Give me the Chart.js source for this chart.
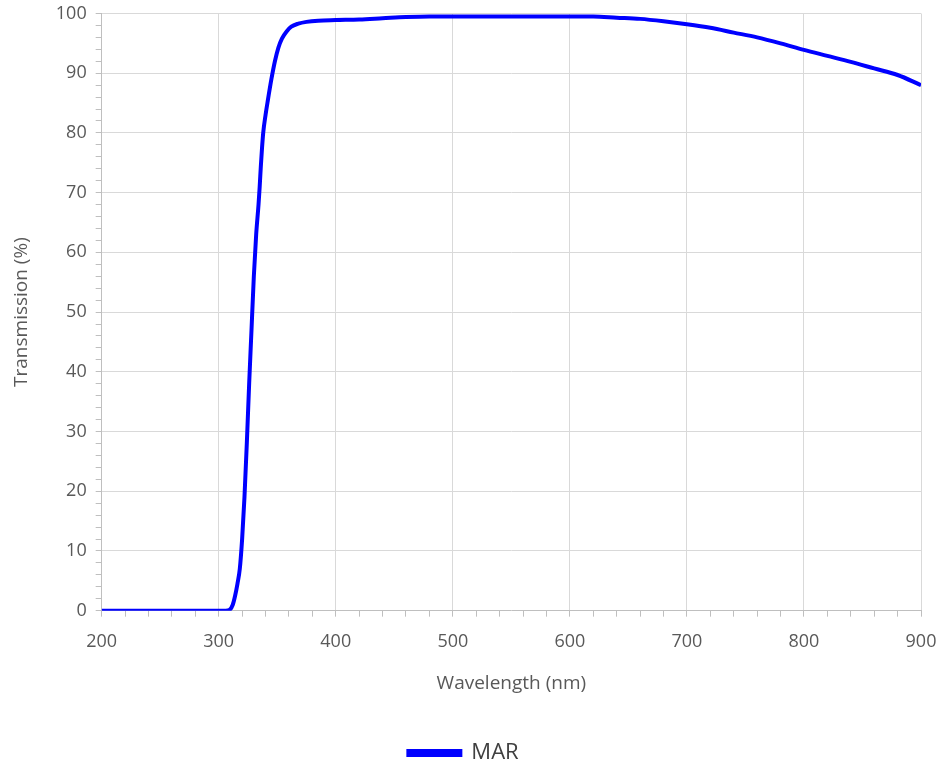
<!DOCTYPE html>
<html>
<head>
<meta charset="utf-8">
<script src="https://cdn.jsdelivr.net/npm/chart.js@4.4.0/dist/chart.umd.min.js"></script>
<style>
  html, body { margin: 0; padding: 0; background: #fff; }
  #wrap { width: 943px; height: 767px; }
</style>
</head>
<body>
<div id="wrap"><canvas id="myChart" width="943" height="767"></canvas></div>
<script>
// transmission curve
var wavelength = [200, 250, 300, 306, 309, 312, 314, 316, 318, 320, 322, 324, 326, 328, 330, 332, 334, 335, 336, 337, 338, 340, 342, 345, 348, 351, 354, 358, 362, 368, 375, 385, 400, 420, 440, 460, 480, 500, 540, 580, 620, 640, 660, 680, 700, 720, 740, 760, 780, 800, 820, 840, 860, 880, 900];
var transmission = [0, 0, 0, 0, 0.1, 1, 2.5, 4.5, 7, 12, 19, 28, 38, 47, 56, 63, 68, 71, 74.5, 77.5, 80, 83, 85.5, 89, 92, 94.3, 95.8, 97, 97.8, 98.3, 98.6, 98.8, 98.9, 99, 99.2, 99.4, 99.5, 99.5, 99.5, 99.5, 99.5, 99.3, 99.1, 98.7, 98.2, 97.6, 96.8, 96, 95, 93.9, 92.9, 91.9, 90.8, 89.7, 88];
var seriesName = "MAR";

var points = wavelength.map(function (w, i) { return { x: w, y: transmission[i] }; });

var fontFace = "'Open Sans', 'Liberation Sans', sans-serif";
var textGray = "#595959";

Chart.defaults.font.family = fontFace;
Chart.defaults.color = textGray;

new Chart(document.getElementById("myChart"), {
	type: "line",
	data: {
		datasets: [
			{
				label: seriesName,
				data: points,
				borderColor: "#0000ff",
				backgroundColor: "#0000ff",
				borderWidth: 4,
				pointRadius: 0,
				cubicInterpolationMode: "monotone",
				fill: false,
			},
		],
	},
	options: {
		responsive: false,
		animation: false,
		layout: { padding: { left: 6, right: 22, top: 0, bottom: -7 } },
		plugins: {
			legend: {
				position: "bottom",
				labels: {
					boxWidth: 52,
					boxHeight: 4,
					color: "#404040",
					padding: 0,
					font: { size: 22 },
				},
			},
			tooltip: { enabled: false },
		},
		scales: {
			x: {
				type: "linear",
				min: 200,
				max: 900,
				ticks: {
					stepSize: 20,
					autoSkip: false,
					maxRotation: 0,
					padding: 2,
					// tall line height pushes the labels down without widening the side padding
					font: { size: 18, lineHeight: 2.53 },
					color: textGray,
					callback: function (v) { return v % 100 === 0 ? v : ""; },
				},
				grid: {
					color: function (c) { return c.tick && c.tick.value % 100 === 0 && c.tick.value !== 200 ? "#d9d9d9" : "transparent"; },
					tickColor: "#bfbfbf",
					tickLength: 6,
				},
				border: { color: "#bfbfbf" },
				title: {
					display: true,
					text: "Wavelength (nm)",
					font: { size: 19 },
					color: textGray,
					padding: { top: 6, bottom: 47 },
				},
			},
			y: {
				min: 0,
				max: 100,
				ticks: {
					stepSize: 2,
					autoSkip: false,
					padding: 9,
					font: { size: 18, lineHeight: 0.5 },
					color: textGray,
					callback: function (v) { return v % 10 === 0 ? v : ""; },
				},
				grid: {
					color: function (c) { return c.tick && c.tick.value % 10 === 0 && c.tick.value !== 0 ? "#d9d9d9" : "transparent"; },
					tickColor: "#bfbfbf",
					tickLength: 6,
				},
				border: { color: "#bfbfbf" },
				title: {
					display: true,
					text: "Transmission (%)",
					font: { size: 19 },
					color: textGray,
					padding: { bottom: 14 },
				},
			},
		},
	},
});
</script>
</body>
</html>
